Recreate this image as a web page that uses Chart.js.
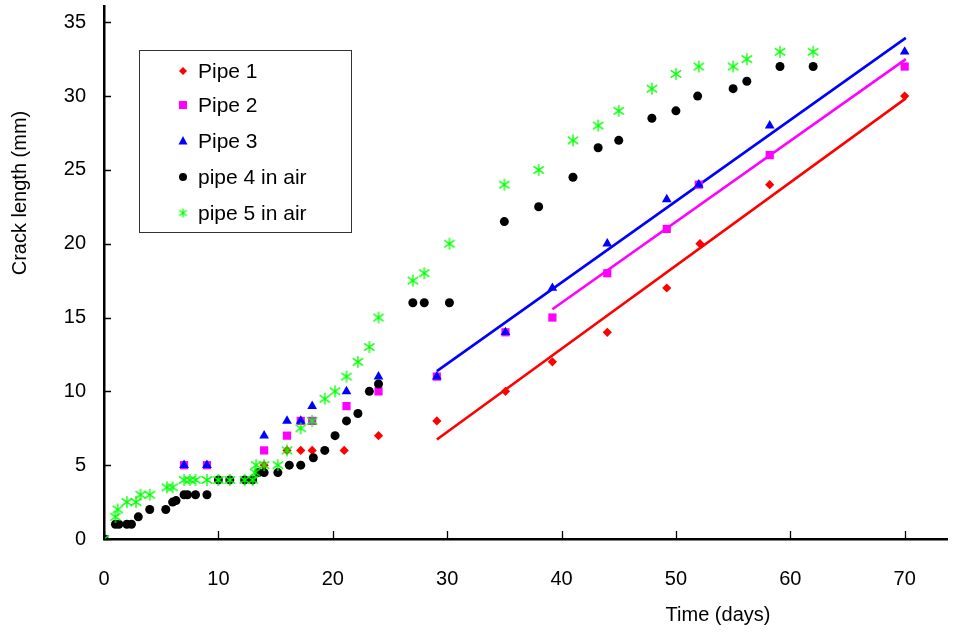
<!DOCTYPE html>
<html>
<head>
<meta charset="utf-8">
<script src="https://cdn.jsdelivr.net/npm/chart.js@4.4.0/dist/chart.umd.min.js"></script>
<style>
  html, body { margin: 0; padding: 0; background: #fff; }
  #wrap { width: 953px; height: 632px; position: relative; }
</style>
</head>
<body>
<div id="wrap"><canvas id="chart" width="953" height="632"></canvas></div>
<script>
// Crack length vs time
const SERIES_NAMES = ["Pipe 1", "Pipe 2", "Pipe 3", "pipe 4 in air", "pipe 5 in air"];

const pipe1X = [0, 14, 16, 17.2, 18.2, 21, 24, 29.1, 35.1, 39.2, 44, 49.2, 52.1, 58.2, 70];
const pipe1Y = [0, 5, 6, 6, 6, 6, 7, 8, 10, 12, 14, 17, 20, 24, 30];

const pipe2X = [0, 7, 9, 14, 16, 17.2, 18.2, 21.2, 24, 29.1, 35.1, 39.2, 44, 49.2, 52, 58.2, 70];
const pipe2Y = [0, 5, 5, 6, 7, 8, 8, 9, 10, 11, 14, 15, 18, 21, 24, 26, 32];

const pipe3X = [0, 7, 9, 14, 16, 17.2, 18.2, 21.2, 24, 29.1, 35.1, 39.2, 44, 49.2, 52, 58.2, 70];
const pipe3Y = [0, 5, 5, 7, 8, 8, 9, 10, 11, 11, 14, 17, 20, 23, 24, 28, 33];

const pipe4X = [0, 1, 1.3, 2, 2.4, 3, 4, 5.4, 6, 6.3, 7, 7.3, 8, 9, 10, 11, 12.3, 13, 13.5, 14, 15.2,
  16.2, 17.2, 18.3, 19.3, 20.2, 21.2, 22.2, 23.2, 24, 27, 28, 30.2, 35, 38, 41, 43.2, 45, 47.9,
  50, 51.9, 55, 56.2, 59.1, 62];
const pipe4Y = [0, 1, 1, 1, 1, 1.5, 2, 2, 2.5, 2.6, 3, 3, 3, 3, 4, 4, 4, 4, 4.5, 4.5, 4.5,
  5, 5, 5.5, 6, 7, 8, 8.5, 10, 10.5, 16, 16, 16, 21.5, 22.5, 24.5, 26.5, 27, 28.5,
  29, 30, 30.5, 31, 32, 32];

const pipe5X = [0, 1, 1.2, 2, 2.8, 3.2, 4, 5.5, 6, 7, 7.5, 8, 9, 10, 11, 12.3, 13, 13.2, 13.3, 14,
  15.2, 16, 17.2, 18.2, 19.3, 20.2, 21.2, 22.2, 23.2, 24, 27, 28, 30.2, 35, 38, 41, 43.2, 45,
  47.9, 50, 52, 55, 56.2, 59.1, 62];
const pipe5Y = [0, 1.5, 2, 2.5, 2.5, 3, 3, 3.5, 3.5, 4, 4, 4, 4, 4, 4, 4, 4, 4.5, 5, 5,
  5, 6, 7.5, 8, 9.5, 10, 11, 12, 13, 15, 17.5, 18, 20, 24, 25, 27, 28, 29,
  30.5, 31.5, 32, 32, 32.5, 33, 33];

// linear trend lines (end points)
const trend1X = [29.1, 70.1];
const trend1Y = [6.74, 29.84];
const trend2X = [39.2, 70.1];
const trend2Y = [15.56, 32.5];
const trend3X = [29.1, 70.1];
const trend3Y = [11.37, 33.94];

const X_TICKS = [0, 10, 20, 30, 40, 50, 60, 70];
const Y_TICKS = [0, 5, 10, 15, 20, 25, 30, 35];
const X_MAX = 73.7;
const Y_MAX = 36.1;

const COLORS = ["#ff0000", "#ff00ff", "#0000ff", "#000000", "#00ff00"];
const FONT = "'Liberation Sans', Arial, sans-serif";

function toPoints(xs, ys) {
  return xs.map((x, i) => ({ x: x, y: ys[i] }));
}

// green asterisk (vertical + two diagonals)
function makeAsterisk(size, color, lw) {
  const c = document.createElement("canvas");
  c.width = size; c.height = size;
  const g = c.getContext("2d");
  const m = size / 2, r = size / 2 - 1;
  g.strokeStyle = color;
  g.lineWidth = lw;
  g.beginPath();
  g.moveTo(m, m - r); g.lineTo(m, m + r);
  g.moveTo(m - r * 0.87, m - r * 0.6); g.lineTo(m + r * 0.87, m + r * 0.6);
  g.moveTo(m - r * 0.87, m + r * 0.6); g.lineTo(m + r * 0.87, m - r * 0.6);
  g.stroke();
  return c;
}
const starBig = makeAsterisk(14, "#00ff00", 1.3);
const starSmall = makeAsterisk(11, "#00ff00", 1.2);

function markerSet(label, xs, ys, color, style, radius, order) {
  return {
    label: label,
    data: toPoints(xs, ys),
    backgroundColor: color,
    borderColor: color,
    borderWidth: 0,
    pointStyle: style,
    pointRadius: radius,
    showLine: false,
    order: order,
  };
}

function trendSet(xs, ys, color) {
  return {
    label: "trend",
    data: toPoints(xs, ys),
    borderColor: color,
    backgroundColor: color,
    borderWidth: 2.6,
    pointRadius: 0,
    showLine: true,
    order: 10,
  };
}

// legend box drawn inside the plot
const legendBox = {
  id: "legendBox",
  afterDraw(chart) {
    const ctx = chart.ctx;
    ctx.save();
    ctx.strokeStyle = "#333";
    ctx.lineWidth = 1;
    ctx.strokeRect(139.5, 50.5, 212, 182);
    const ys = [71, 105, 141, 177, 213];
    ctx.font = "21px " + FONT;
    ctx.textBaseline = "middle";
    ctx.textAlign = "left";
    SERIES_NAMES.forEach((name, i) => {
      const mx = 183, my = ys[i];
      ctx.fillStyle = COLORS[i];
      ctx.beginPath();
      if (i === 0) {
        ctx.moveTo(mx, my - 4); ctx.lineTo(mx + 4, my); ctx.lineTo(mx, my + 4); ctx.lineTo(mx - 4, my);
        ctx.closePath(); ctx.fill();
      } else if (i === 1) {
        ctx.fillRect(mx - 4, my - 4, 8, 8);
      } else if (i === 2) {
        ctx.moveTo(mx, my - 5); ctx.lineTo(mx + 4.5, my + 3.5); ctx.lineTo(mx - 4.5, my + 3.5);
        ctx.closePath(); ctx.fill();
      } else if (i === 3) {
        ctx.arc(mx, my, 4, 0, Math.PI * 2); ctx.fill();
      } else {
        ctx.drawImage(starSmall, mx - 5.5, my - 5.5);
      }
      ctx.fillStyle = "#000";
      ctx.fillText(name, 198, my + 1);
    });
    ctx.restore();
  },
};

// tick marks pointing into the plot + axis titles
const axisExtras = {
  id: "axisExtras",
  afterDraw(chart) {
    const ctx = chart.ctx;
    const xs = chart.scales.x, ys = chart.scales.y;
    const area = chart.chartArea;
    ctx.save();
    ctx.strokeStyle = "#000";
    ctx.lineWidth = 1.3;
    ctx.beginPath();
    X_TICKS.forEach((v) => {
      const px = Math.round(xs.getPixelForValue(v)) + 0.5;
      ctx.moveTo(px, area.bottom); ctx.lineTo(px, area.bottom - 8);
    });
    Y_TICKS.forEach((v) => {
      const py = Math.round(ys.getPixelForValue(v)) + 0.5;
      ctx.moveTo(area.left, py); ctx.lineTo(area.left + 7, py);
    });
    ctx.stroke();

    ctx.fillStyle = "#000";
    ctx.font = "20px " + FONT;
    ctx.textAlign = "center";
    ctx.textBaseline = "middle";
    ctx.fillText("Time (days)", 718, 615);
    ctx.translate(20, 193);
    ctx.rotate(-Math.PI / 2);
    ctx.fillText("Crack length (mm)", 0, 0);
    ctx.restore();
  },
};

function noEdgePadding(s) {
  s.paddingTop = 0;
  s.paddingBottom = 0;
  s.paddingLeft = 0;
  s.paddingRight = 0;
}

const datasets = [
  markerSet(SERIES_NAMES[0], pipe1X, pipe1Y, COLORS[0], "rectRot", 4.6, 5),
  markerSet(SERIES_NAMES[1], pipe2X, pipe2Y, COLORS[1], "rect", 5.8, 4),
  markerSet(SERIES_NAMES[2], pipe3X, pipe3Y, COLORS[2], "triangle", 5.6, 3),
  markerSet(SERIES_NAMES[3], pipe4X, pipe4Y, COLORS[3], "circle", 4.5, 2),
  markerSet(SERIES_NAMES[4], pipe5X, pipe5Y, COLORS[4], starBig, 6, 1),
  trendSet(trend1X, trend1Y, COLORS[0]),
  trendSet(trend2X, trend2Y, COLORS[1]),
  trendSet(trend3X, trend3Y, COLORS[2]),
];

new Chart(document.getElementById("chart"), {
  type: "scatter",
  data: { datasets: datasets },
  plugins: [axisExtras, legendBox],
  options: {
    responsive: false,
    animation: false,
    events: [],
    layout: { padding: { top: 5, right: -2, left: 0, bottom: 0 } },
    plugins: {
      legend: { display: false },
      tooltip: { enabled: false },
    },
    scales: {
      x: {
        type: "linear",
        min: 0,
        max: X_MAX,
        afterBuildTicks: (s) => { s.ticks = X_TICKS.map((v) => ({ value: v })); },
        afterFit: (s) => { s.height = 93; noEdgePadding(s); },
        grid: { display: false, drawTicks: false },
        border: { display: true, color: "#000", width: 2.5 },
        ticks: { padding: 28, color: "#000", font: { family: FONT, size: 20 }, maxRotation: 0, autoSkip: false },
      },
      y: {
        type: "linear",
        min: 0,
        max: Y_MAX,
        afterBuildTicks: (s) => { s.ticks = Y_TICKS.map((v) => ({ value: v })); },
        afterFit: (s) => { s.width = 104; noEdgePadding(s); },
        grid: { display: false, drawTicks: false },
        border: { display: true, color: "#000", width: 2.5 },
        ticks: { padding: 18, color: "#000", font: { family: FONT, size: 20 }, autoSkip: false },
      },
    },
  },
});
</script>
</body>
</html>
